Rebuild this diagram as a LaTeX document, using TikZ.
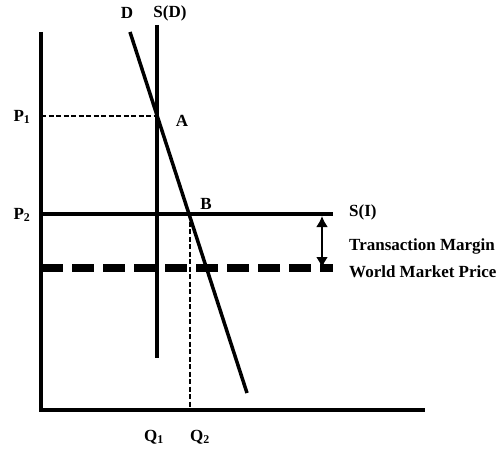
\documentclass[tikz,border=0pt]{standalone}
\usepackage{fontspec}
\setmainfont{Liberation Serif}
\usetikzlibrary{arrows,arrows.meta,positioning}

\begin{document}
\begin{tikzpicture}[
                x=1pt, y=-1pt,
                every node/.style={font=\bfseries\fontsize{17}{19}\selectfont, inner sep=1pt},
                axis/.style={line width=3.5pt},
                curve/.style={line width=3.5pt},
                guide/.style={line width=1.2pt, dash pattern=on 5pt off 2.5pt},
                world/.style={line width=8pt, dash pattern=on 22pt off 9pt},
                margin/.style={line width=2.2pt, {Latex[length=11pt,width=12pt]}-{Latex[length=11pt,width=12pt]}}
            ]
                \useasboundingbox (0,0) rectangle (504,452);

                % Define Points
                \coordinate (origin) at (41,410);
                \coordinate (ytop) at (41,32);
                \coordinate (xend) at (425,410);
                \coordinate (sdtop) at (157,25);
                \coordinate (sdbot) at (157,358);
                \coordinate (dtop) at (130,32);
                \coordinate (dbot) at (247,393);
                \coordinate (ptA) at (157,116);
                \coordinate (ptB) at (190,214);
                \coordinate (p1) at (41,116);
                \coordinate (p2) at (41,214);
                \coordinate (siend) at (333,214);
                \coordinate (w0) at (41,268);
                \coordinate (wend) at (333,268);
                \coordinate (q2) at (190,410);
                \coordinate (mtop) at (322,216);
                \coordinate (mbot) at (322,268);

                % Axes
                \draw[axis] (ytop) -- (origin) -- (xend);

                % Guide lines
                \draw[guide] (p1) -- (ptA);
                \draw[guide] (ptB) -- (q2);

                % Curves
                \draw[world] (w0) -- (wend);
                \draw[curve] (p2) -- (siend);
                \draw[line width=4.5pt] (sdtop) -- (sdbot);
                \draw[curve] (dtop) -- (dbot);

                % Margin between prices
                \draw[margin] (mtop) -- (mbot);

                % Labels
                \node (labD) at (127,13) {D};
                \node (labSD) at (170,13) {S(D)};
                \node (labP1) at (22,117) {P$_{\mathbf 1}$};
                \node (labA) at (182,121) {A};
                \node (labP2) at (22,215) {P$_{\mathbf 2}$};
                \node (labB) at (206,204) {B};
                \node (labSI) [anchor=west] at (348,212) {S(I)};
                \node (labTM) [anchor=west] at (348,246) {Transaction Margin};
                \node (labWM) [anchor=west] at (348,272) {World Market Price};
                \node (labQ1) at (154,437) {Q$_{\mathbf 1}$};
                \node (labQ2) at (200,437) {Q$_{\mathbf 2}$};

            \end{tikzpicture}
\end{document}
